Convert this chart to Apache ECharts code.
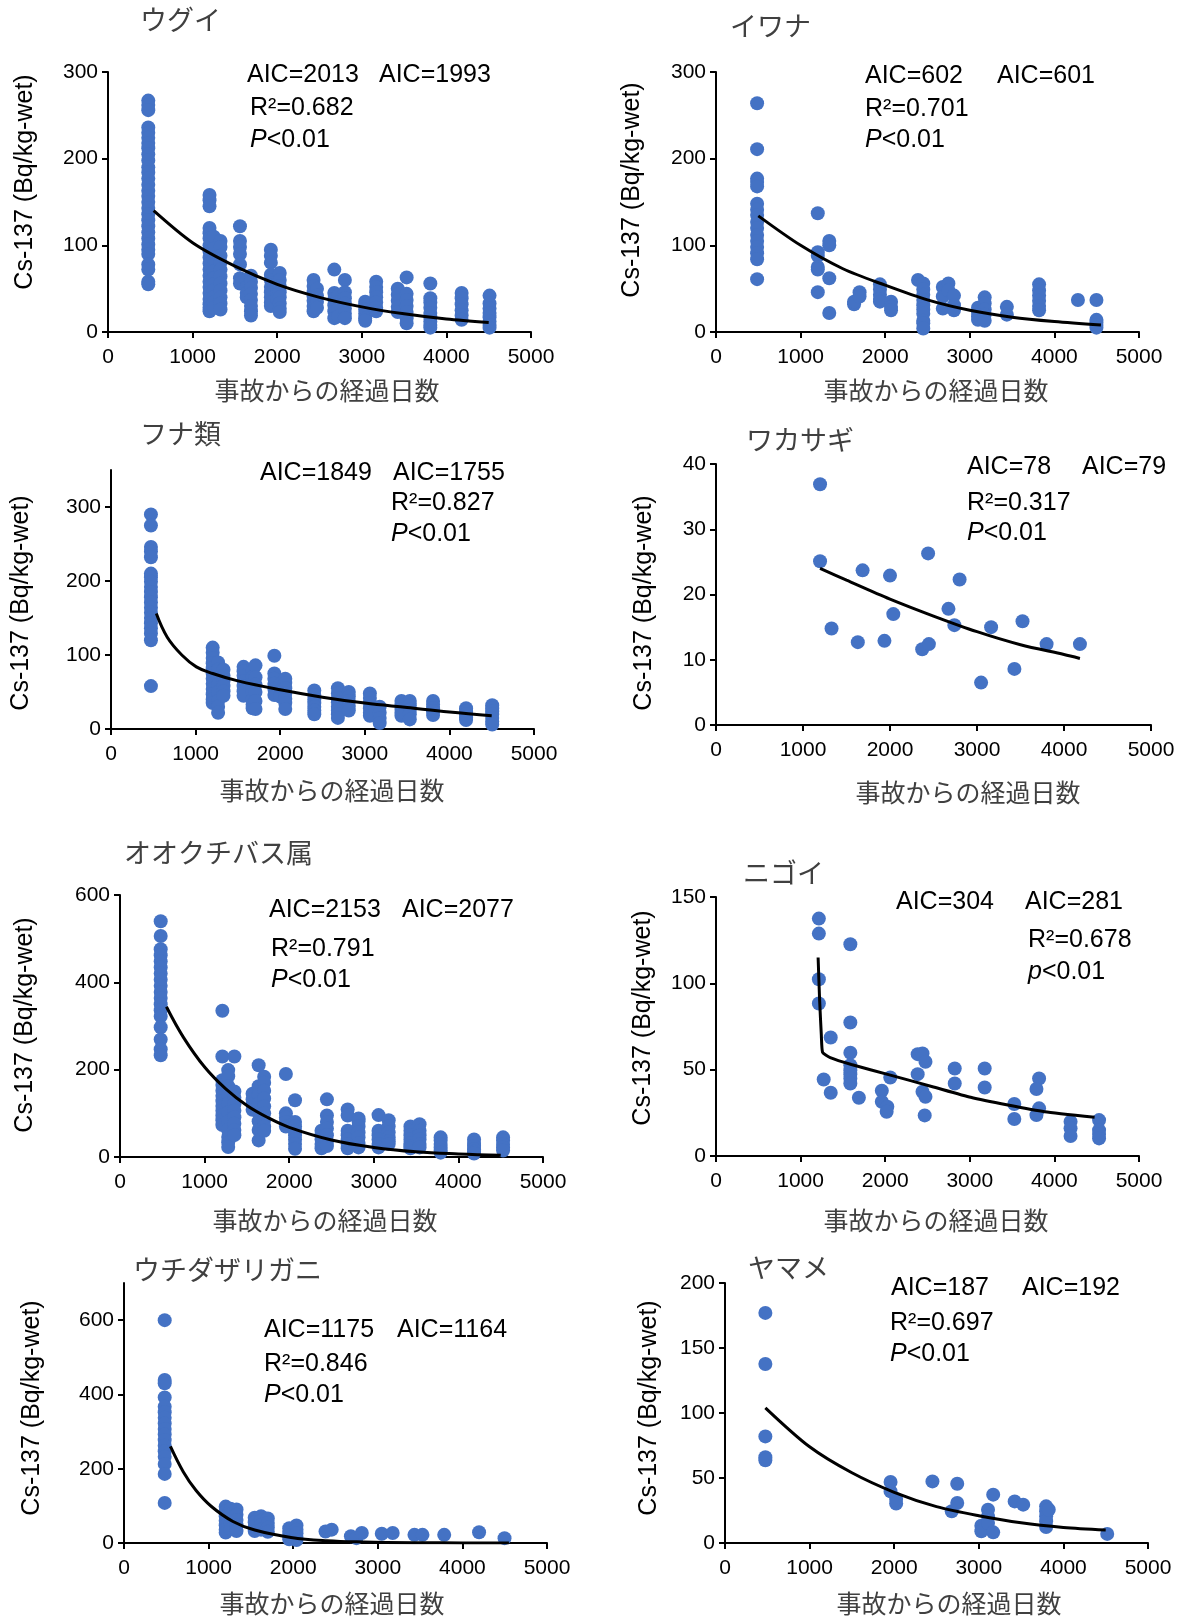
<!DOCTYPE html>
<html>
<head>
<meta charset="utf-8">
<script src="https://cdn.jsdelivr.net/npm/echarts@6/dist/echarts.min.js"></script>
<style>
  html, body { margin: 0; padding: 0; background: #fff; }
  #main { width: 1181px; height: 1617px; }
</style>
</head>
<body>
<div id="main"></div>
<script>
// 各パネルのデータ
// 列データ: [x, [y, y, ...]]
const uguiCols = [
  [476, [267, 262, 256, 236, 230, 224, 218, 212, 205, 198, 190, 184, 177, 170, 163, 157, 150, 143, 136, 129, 122, 115, 108, 101, 95, 90, 78, 72, 58, 55]],
  [1200, [158, 152, 145, 120, 114, 108, 100, 93, 86, 79, 72, 65, 58, 52, 45, 38, 32, 28, 24]],
  [1250, [110, 96, 84, 70, 62, 55, 48, 40, 34, 28]],
  [1330, [105, 98, 88, 80, 72, 64, 56, 48, 40, 33, 26]],
  [1560, [122, 105, 98, 90, 78, 62, 56]],
  [1640, [60, 52, 45, 40]],
  [1690, [65, 58, 51, 44, 37, 30, 24, 19]],
  [1925, [95, 88, 80, 66, 60, 52, 46, 40, 34, 30]],
  [2000, [58, 50, 44, 38]],
  [2030, [68, 60, 53, 46, 40, 33, 27, 23]],
  [2430, [60, 53, 46, 41, 36, 30, 24]],
  [2470, [50, 42, 35, 28]],
  [2675, [72, 45, 38, 31, 24, 16]],
  [2720, [42, 34, 26, 18]],
  [2800, [60, 46, 39, 33, 27, 21, 16]],
  [3040, [35, 31, 26, 21, 16, 13]],
  [3170, [58, 52, 46, 40, 34, 28, 24]],
  [3425, [50, 43, 36, 29, 23]],
  [3530, [63, 44, 37, 30, 23, 16, 10]],
  [3810, [56, 39, 34, 28, 22, 17, 12, 8, 5]],
  [4180, [45, 39, 32, 25, 19, 14]],
  [4510, [42, 33, 27, 22, 17, 12, 8, 5]]
];
const uguiFit = [[540, 140], [1000, 103], [1500, 76], [2000, 55], [2500, 40], [3000, 29], [3500, 21], [4000, 15], [4500, 11]];

const iwanaCols = [
  [486, [264, 211, 177, 173, 168, 148, 141, 135, 127, 120, 112, 105, 98, 91, 84, 61]],
  [1203, [137, 92, 88, 75, 72, 46]],
  [1339, [105, 100, 62, 22]],
  [1632, [32, 35]],
  [1697, [46, 41]],
  [1938, [55, 49, 43, 38, 35]],
  [2069, [35, 29, 25]],
  [2388, [60]],
  [2450, [56, 49, 43, 37, 31, 26, 21, 13, 10, 4]],
  [2681, [52, 41, 27]],
  [2747, [56, 48]],
  [2813, [42, 31, 25]],
  [3097, [28, 23, 18, 14]],
  [3176, [40, 33, 26, 20, 13]],
  [3438, [29, 20]],
  [3819, [55, 48, 42, 36, 30, 25]],
  [4278, [37]],
  [4497, [37, 14, 11, 8, 5]]
];
const iwanaFit = [[500, 134], [1000, 100], [1500, 73], [2000, 54], [2500, 37], [3000, 25], [3500, 17], [4000, 12], [4550, 8]];

const funaCols = [
  [472, [290, 275, 246, 240, 232, 210, 205, 199, 192, 185, 178, 171, 164, 157, 150, 143, 136, 129, 120, 58]],
  [1202, [110, 103, 96, 89, 82, 75, 68, 61, 54, 47, 40, 35]],
  [1266, [90, 80, 70, 60, 50, 38, 30, 22]],
  [1330, [80, 72, 65, 58, 51, 45]],
  [1567, [84, 78, 72, 65, 58, 51, 45]],
  [1674, [78, 70, 62, 55, 48, 40, 33, 28]],
  [1708, [86, 70, 60, 50, 38, 27]],
  [1931, [99, 75, 68, 61, 54, 46]],
  [2000, [60, 52, 44]],
  [2060, [68, 62, 55, 48, 41, 35, 27]],
  [2403, [52, 46, 40, 35, 30, 25, 20]],
  [2682, [55, 48, 42, 36, 30, 25, 20, 15]],
  [2811, [50, 44, 38, 31, 25]],
  [3060, [48, 42, 35, 28, 22, 18]],
  [3176, [30, 22, 15, 8]],
  [3433, [38, 32, 27, 22, 18]],
  [3532, [38, 32, 26, 20, 13]],
  [3807, [38, 33, 28, 24, 19]],
  [4197, [28, 24, 20, 16, 12]],
  [4506, [32, 28, 24, 20, 15, 10, 6]]
];
const funaFit = [[536, 156], [665, 124], [837, 100], [1009, 84], [1202, 75], [1500, 65], [2000, 53], [2500, 43], [3000, 35], [3500, 29], [4000, 23], [4500, 18]];

const wakasagiPts = [
  [1196, 36.9], [1196, 25.1], [1328, 14.8], [1630, 12.7], [1685, 23.7], [1936, 12.9], [2000, 22.9],
  [2038, 17.0], [2370, 11.6], [2438, 26.3], [2447, 12.4], [2672, 17.8], [2740, 15.3], [2800, 22.3],
  [3047, 6.5], [3162, 15.0], [3430, 8.6], [3523, 15.9], [3800, 12.4], [4183, 12.4]
];
const wakasagiFit = [[1196, 24], [1500, 22.2], [2000, 19.3], [2500, 16.7], [3000, 14.3], [3500, 12.3], [4000, 10.8], [4183, 10.2]];

const bassCols = [
  [481, [540, 506, 476, 462, 448, 434, 420, 406, 392, 378, 364, 350, 336, 322, 297, 269, 247, 233]],
  [1210, [335, 230, 176, 165, 152, 140, 128, 117, 106, 95, 84, 73]],
  [1279, [199, 185, 162, 142, 122, 102, 82, 62, 46, 34, 23]],
  [1352, [230, 150, 136, 121, 106, 91, 76, 62, 50]],
  [1567, [145, 132, 120, 108]],
  [1639, [210, 162, 142, 122, 102, 82, 62, 38]],
  [1704, [184, 170, 152, 134, 116, 100, 85, 70, 60]],
  [1961, [190, 100, 90, 80, 70]],
  [2069, [130, 80, 70, 60, 50, 40, 30, 19]],
  [2382, [60, 50, 40, 30, 20]],
  [2446, [132, 95, 80, 65, 50, 35, 25]],
  [2691, [109, 95, 60, 50, 40, 30, 20]],
  [2820, [88, 82, 70, 56, 45, 32, 22]],
  [3056, [96, 60, 50, 40, 30, 22]],
  [3176, [84, 70, 56, 45, 36, 30]],
  [3433, [70, 60, 50, 40, 31, 25, 20]],
  [3541, [75, 60, 50, 40, 30, 22]],
  [3790, [45, 38, 30, 22, 15, 10]],
  [4185, [40, 32, 25, 18, 12, 8]],
  [4528, [45, 38, 30, 22, 15]]
];
const bassFit = [[549, 344], [750, 274], [1000, 206], [1250, 156], [1500, 118], [1750, 90], [2000, 68], [2500, 39], [3000, 22], [3500, 12], [4000, 7], [4500, 4]];

const nigoiPts = [
  [1216, 137.5], [1216, 128.8], [1588, 122.6], [1216, 102.4], [1216, 88.3], [1588, 77.3], [1356, 68.6],
  [1588, 59.8], [1588, 52.6], [1588, 49.7], [1588, 47.4], [1588, 44.9], [1588, 42], [1273, 44.3],
  [1356, 36.6], [1689, 33.7], [1960, 37.8], [1960, 31.4], [2025, 28.5], [2017, 25.6], [2060, 45.5],
  [2384, 59], [2441, 59.4], [2476, 54.6], [2384, 47.4], [2441, 37.2], [2476, 34.3], [2467, 23.5],
  [2822, 50.7], [2822, 42], [3176, 50.7], [3176, 39.7], [3526, 30.1], [3526, 21.4], [3819, 44.9],
  [3788, 38.8], [3819, 27.6], [3788, 23.7], [4191, 19.9], [4191, 16], [4191, 11.6], [4528, 20.8],
  [4528, 15], [4528, 12.7], [4528, 10.2]
];
const nigoiFit = [[1207, 115], [1225, 90], [1245, 70], [1260, 60], [1350, 57], [1600, 53], [2050, 47], [2570, 40], [3010, 34], [3450, 29.5], [3885, 25.6], [4475, 22.4]];

const zariganiCols = [
  [481, [600, 439, 430, 392, 367, 352, 337, 322, 307, 292, 277, 262, 247, 232, 213, 186, 108]],
  [1202, [98, 85, 72, 60, 48, 36, 28]],
  [1260, [92, 78, 64, 50, 38]],
  [1330, [90, 76, 62, 48, 32]],
  [1545, [68, 56, 44, 32]],
  [1620, [72, 60, 48, 36]],
  [1700, [66, 54, 42, 30]],
  [1953, [40, 30, 20, 10]],
  [2039, [47, 36, 26, 16, 8]],
  [2382, [31]], [2455, [36]], [2682, [18]], [2747, [13]], [2811, [27]], [3047, [25]],
  [3176, [27]], [3433, [22]], [3528, [22]], [3785, [22]], [4197, [29]], [4498, [13]]
];
const zariganiFit = [[549, 260], [700, 192], [850, 142], [1030, 99], [1288, 58], [1545, 35], [1974, 15], [2400, 6], [2830, 2.7], [3500, 0.7], [4000, 0.3], [4550, 0.1]];

const yamamePts = [
  [477, 177], [477, 137.7], [477, 82], [477, 66], [477, 63.6], [1957, 47], [1957, 39.7], [2023, 33.8],
  [2023, 30.3], [2452, 47.4], [2745, 45.6], [2680, 24.4], [2745, 30.8], [3030, 13.3], [3030, 9],
  [3109, 25.6], [3109, 20.5], [3109, 15.4], [3170, 37.2], [3170, 8.2], [3424, 32], [3525, 29.5],
  [3796, 28.2], [3796, 24.4], [3796, 20.5], [3796, 16.7], [3796, 12.3], [3827, 25.6], [4518, 7]
];
const yamameFit = [[477, 104], [1000, 74], [1500, 54], [2000, 39], [2500, 28], [3000, 21], [3500, 15.5], [4000, 12], [4500, 10]];

const titles = ['ウグイ', 'イワナ', 'フナ類', 'ワカサギ', 'オオクチバス属', 'ニゴイ', 'ウチダザリガニ', 'ヤマメ'];
const aicLeft = ['AIC=2013', 'AIC=602', 'AIC=1849', 'AIC=78', 'AIC=2153', 'AIC=304', 'AIC=1175', 'AIC=187'];
const aicRight = ['AIC=1993', 'AIC=601', 'AIC=1755', 'AIC=79', 'AIC=2077', 'AIC=281', 'AIC=1164', 'AIC=192'];
const r2Labels = ['R²=0.682', 'R²=0.701', 'R²=0.827', 'R²=0.317', 'R²=0.791', 'R²=0.678', 'R²=0.846', 'R²=0.697'];
const pLetters = ['P', 'P', 'P', 'P', 'P', 'p', 'P', 'P'];
const yMax = [300, 300, 350, 40, 600, 150, 700, 200];
const yTicks = [
  [0, 100, 200, 300], [0, 100, 200, 300], [0, 100, 200, 300], [0, 10, 20, 30, 40],
  [0, 200, 400, 600], [0, 50, 100, 150], [0, 200, 400, 600], [0, 50, 100, 150, 200]
];
const xName = '事故からの経過日数';
const yName = 'Cs-137 (Bq/kg-wet)';

const flatten = cols => cols.reduce((acc, c) => acc.concat(c[1].map(v => [c[0], v])), []);
const scatterData = [
  flatten(uguiCols), flatten(iwanaCols), flatten(funaCols), wakasagiPts,
  flatten(bassCols), nigoiPts, flatten(zariganiCols), yamamePts
];
const fitData = [uguiFit, iwanaFit, funaFit, wakasagiFit, bassFit, nigoiFit, zariganiFit, yamameFit];

// レイアウト（ピクセル）
const grids = [
  { left: 108, top: 72, width: 423, height: 260 },
  { left: 716, top: 72, width: 423, height: 260 },
  { left: 111, top: 470, width: 423, height: 259 },
  { left: 716, top: 464, width: 435, height: 261 },
  { left: 120, top: 895, width: 423, height: 262 },
  { left: 716, top: 897, width: 423, height: 259 },
  { left: 124, top: 1283, width: 423, height: 260 },
  { left: 725, top: 1283, width: 423, height: 260 }
];
const titlePos = [[140, 20], [730, 26], [140, 434], [746, 440], [124, 853], [743, 873], [133, 1270], [748, 1268]];
const yNamePos = [[25, 182], [632, 190], [21, 603], [644, 603], [25, 1025], [643, 1018], [32, 1408], [649, 1408]];
const xNamePos = [[327, 390], [936, 390], [332, 790], [968, 792], [325, 1220], [936, 1220], [332, 1603], [949, 1603]];
// [AIC左x, AIC右x, AIC y, R²/P x, R² y, P y]
const notePos = [
  [247, 379, 75, 250, 108, 140],
  [865, 997, 76, 865, 109, 140],
  [260, 393, 473, 391, 503, 534],
  [967, 1082, 467, 967, 503, 533],
  [269, 402, 910, 271, 949, 980],
  [896, 1025, 902, 1028, 940, 972],
  [264, 397, 1330, 264, 1364, 1395],
  [891, 1022, 1288, 890, 1323, 1354]
];
const smoothFit = [0.3, 0.3, 0.4, 0.3, 0.4, 0.15, 0.4, 0.3];

const LATIN = "'Liberation Sans', Arial, sans-serif";
const CJK = "'Noto Sans CJK JP', sans-serif";
const BLUE = '#4472C4';

const axisCommon = {
  axisLine: { show: true, onZero: false, lineStyle: { color: '#000', width: 2 } },
  axisTick: { show: true, inside: false, length: 6, lineStyle: { color: '#000', width: 2 } },
  splitLine: { show: false },
  axisLabel: { color: '#000', fontFamily: LATIN, fontSize: 21 }
};

const xAxes = grids.map((g, i) => ({
  type: 'value', gridIndex: i, min: 0, max: 5000, interval: 1000,
  ...axisCommon,
  axisLabel: { ...axisCommon.axisLabel, margin: 15, formatter: v => String(v) }
}));

const yAxes = grids.map((g, i) => ({
  type: 'value', gridIndex: i, min: 0, max: yMax[i],
  ...axisCommon,
  axisTick: { ...axisCommon.axisTick, customValues: yTicks[i] },
  axisLabel: { ...axisCommon.axisLabel, margin: 10, customValues: yTicks[i], formatter: v => String(v) }
}));

const series = [];
scatterData.forEach((d, i) => {
  series.push({
    type: 'scatter', xAxisIndex: i, yAxisIndex: i, data: d,
    symbolSize: 14, itemStyle: { color: BLUE, opacity: 1 }, z: 2, silent: true
  });
});
fitData.forEach((d, i) => {
  series.push({
    type: 'line', xAxisIndex: i, yAxisIndex: i, data: d,
    showSymbol: false, smooth: smoothFit[i],
    lineStyle: { color: '#000', width: 3 }, z: 3, silent: true
  });
});

const graphics = [];
titles.forEach((t, i) => {
  graphics.push({
    type: 'text', x: titlePos[i][0], y: titlePos[i][1],
    style: { text: t, font: '27px ' + CJK, fill: '#404040', verticalAlign: 'middle', align: 'left' }
  });
  graphics.push({
    type: 'text', x: xNamePos[i][0], y: xNamePos[i][1],
    style: { text: xName, font: '25px ' + CJK, fill: '#404040', verticalAlign: 'middle', align: 'center' }
  });
  graphics.push({
    type: 'text', x: yNamePos[i][0], y: yNamePos[i][1], rotation: Math.PI / 2,
    style: { text: yName, font: '25px ' + LATIN, fill: '#000', verticalAlign: 'middle', align: 'center' }
  });
  const n = notePos[i];
  const noteFont = '25px ' + LATIN;
  graphics.push({
    type: 'text', x: n[0], y: n[2],
    style: { text: aicLeft[i], font: noteFont, fill: '#000', verticalAlign: 'middle' }
  });
  graphics.push({
    type: 'text', x: n[1], y: n[2],
    style: { text: aicRight[i], font: noteFont, fill: '#000', verticalAlign: 'middle' }
  });
  graphics.push({
    type: 'text', x: n[3], y: n[4],
    style: { text: r2Labels[i], font: noteFont, fill: '#000', verticalAlign: 'middle' }
  });
  graphics.push({
    type: 'text', x: n[3], y: n[5],
    style: {
      text: '{i|' + pLetters[i] + '}{n|<0.01}', verticalAlign: 'middle',
      rich: {
        i: { font: 'italic 25px ' + LATIN, fill: '#000' },
        n: { font: noteFont, fill: '#000' }
      }
    }
  });
});

const chart = echarts.init(document.getElementById('main'), null, { renderer: 'canvas' });
chart.setOption({
  backgroundColor: '#fff',
  animation: false,
  grid: grids,
  xAxis: xAxes,
  yAxis: yAxes,
  series: series,
  graphic: graphics
});
</script>
</body>
</html>
